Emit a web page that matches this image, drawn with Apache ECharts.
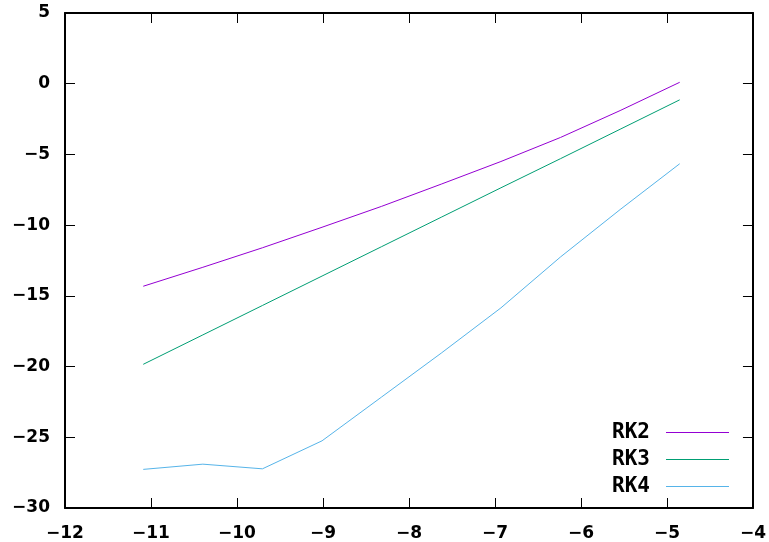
<!DOCTYPE html>
<html>
<head>
<meta charset="utf-8">
<script src="https://cdn.jsdelivr.net/npm/echarts@6/dist/echarts.min.js"></script>
<style>
    html, body { margin: 0; padding: 0; background: #fff; }
    #chart { width: 769px; height: 542px; }
</style>
</head>
<body>
<div id="chart"></div>
<script>
// step sizes (log scale) shared by all curves
var logH = [-11.090, -10.397, -9.704, -9.011, -8.318, -7.625, -6.931, -6.238, -5.545, -4.852];
var rk2 = [-14.32, -12.98, -11.60, -10.15, -8.67, -7.10, -5.50, -3.80, -1.90, 0.10];
var rk3 = [-19.84, -17.76, -15.68, -13.60, -11.52, -9.44, -7.36, -5.30, -3.22, -1.14];
var rk4 = [-27.27, -26.90, -27.23, -25.25, -22.15, -19.05, -15.85, -12.25, -8.90, -5.66];
var seriesNames = ['RK2', 'RK3', 'RK4'];
var colors = ['#9400d3', '#009e73', '#56b4e9'];

function pairs(ys) {
    return logH.map(function (x, i) { return [x, ys[i]]; });
}

var chart = echarts.init(document.getElementById('chart'));

var labelStyle = {
    fontFamily: 'DejaVu Sans',
    fontWeight: 'bold',
    fontSize: 17,
    color: '#000',
    formatter: function (v) { return String(v).replace('-', '\u2212'); }
};

function axisBase(extra) {
    var base = {
        type: 'value',
        axisLine: { show: true, onZero: false, lineStyle: { color: '#000', width: 2 } },
        axisTick: { show: true, inside: true, length: 10, lineStyle: { color: '#000', width: 1 } },
        splitLine: { show: false }
    };
    for (var k in extra) base[k] = extra[k];
    return base;
}

var option = {
    backgroundColor: '#fff',
    animation: false,
    color: colors,
    grid: { left: 65, right: 13, top: 13, bottom: 33 },
    legend: {
        orient: 'vertical',
        align: 'right',
        right: 40,
        top: 422,
        padding: 0,
        itemGap: 6,
        itemWidth: 63,
        itemHeight: 1,
        icon: 'rect',
        textStyle: {
            fontFamily: 'monospace',
            fontWeight: 'bold',
            fontSize: 21,
            color: '#000',
            padding: [0, 11, 0, 0]
        },
        data: seriesNames.map(function (n, i) {
            return {
                name: n,
                itemStyle: { color: colors[i] },
                textStyle: { fontFamily: 'monospace', fontSize: 21, fontWeight: 'bold' }
            };
        })
    },
    xAxis: [
        axisBase({ position: 'bottom', min: -12, max: -4, interval: 1,
            axisLabel: Object.assign({ margin: 17 }, labelStyle) }),
        axisBase({ position: 'top', min: -12, max: -4, interval: 1, axisLabel: { show: false } })
    ],
    yAxis: [
        axisBase({ position: 'left', min: -30, max: 5, interval: 5,
            axisLabel: Object.assign({ margin: 15 }, labelStyle) }),
        axisBase({ position: 'right', min: -30, max: 5, interval: 5, axisLabel: { show: false } })
    ],
    series: [
        { name: seriesNames[0], type: 'line', data: pairs(rk2), symbol: 'none', lineStyle: { width: 1, color: colors[0] }, itemStyle: { color: colors[0] } },
        { name: seriesNames[1], type: 'line', data: pairs(rk3), symbol: 'none', lineStyle: { width: 1, color: colors[1] }, itemStyle: { color: colors[1] } },
        { name: seriesNames[2], type: 'line', data: pairs(rk4), symbol: 'none', lineStyle: { width: 1, color: colors[2] }, itemStyle: { color: colors[2] } }
    ]
};

chart.setOption(option);
window.addEventListener('resize', function () { chart.resize(); });
</script>
</body>
</html>
